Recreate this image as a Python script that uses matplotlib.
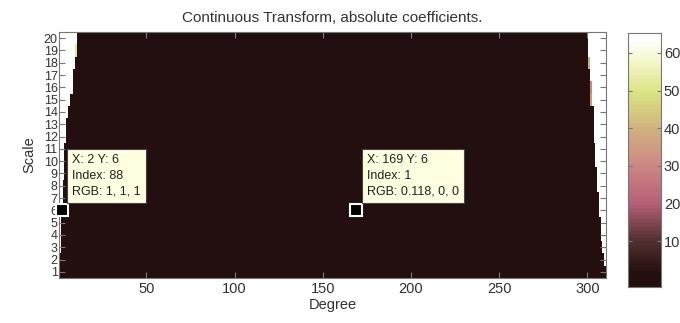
import numpy as np
import matplotlib
matplotlib.use("Agg")
import matplotlib.pyplot as plt
from matplotlib.colors import LinearSegmentedColormap, Normalize

# ---- data ----
n_degree = 310
scales = list(range(1, 21))
# number of bright (clipped, > 64) columns at the left / right edge for each scale 1..20
left_bright = [0, 0, 1, 1, 1, 2, 2, 2, 3, 3, 3, 4, 4, 5, 6, 8, 8, 9, 9, 10]
right_bright = [0, 1, 2, 3, 3, 4, 4, 5, 5, 6, 6, 7, 7, 7, 8, 8, 9, 9, 10, 10]
background_index = 1
edge_index = 88
# tinted boundary cells (scale, degree, index)
tint_cells = [(19, 10, 52), (16, 302, 30), (15, 302, 34), (18, 301, 40)]
xticks = [50, 100, 150, 200, 250, 300]
cbar_ticks = [10, 20, 30, 40, 50, 60]
tips = [
    dict(x=2, y=6, index=88, rgb="1, 1, 1"),
    dict(x=169, y=6, index=1, rgb="0.118, 0, 0"),
]

# ---- matrix ----
Z = np.full((len(scales), n_degree), float(background_index))
for i, s in enumerate(scales):
    if left_bright[i] > 0:
        Z[i, :left_bright[i]] = edge_index
    if right_bright[i] > 0:
        Z[i, n_degree - right_bright[i]:] = edge_index
for s, d, v in tint_cells:
    Z[s - 1, d - 1] = v

# colormap (index 1..64)
cmap_colors = [
    (0.0, (0.14, 0.06, 0.06)),
    (0.14, (0.33, 0.19, 0.19)),
    (0.30, (0.72, 0.38, 0.47)),
    (0.46, (0.80, 0.53, 0.52)),
    (0.62, (0.82, 0.70, 0.50)),
    (0.78, (0.86, 0.90, 0.52)),
    (0.92, (0.97, 0.97, 0.82)),
    (1.0, (1.0, 1.0, 1.0)),
]
cmap = LinearSegmentedColormap.from_list("ct", cmap_colors, N=64)
norm = Normalize(vmin=1, vmax=64, clip=True)

W, H = 680, 323
fig = plt.figure(figsize=(W / 100, H / 100), dpi=100)
fig.patch.set_facecolor("white")
plt.rcParams["font.family"] = ["Liberation Sans", "DejaVu Sans"]

ax = fig.add_axes([59 / W, (H - 278) / H, 547 / W, 246 / H])
ax.imshow(Z, cmap=cmap, norm=norm, origin="lower", aspect="auto",
          extent=[0.5, n_degree + 0.5, 0.5, len(scales) + 0.5],
          interpolation="nearest")
ax.set_xlim(0.5, n_degree + 0.5)
ax.set_ylim(0.5, len(scales) + 0.5)
ax.set_xticks(xticks)
ax.set_yticks(scales)
ax.set_yticklabels([str(s) for s in scales])
frame_col = "#777777"
for sp in ax.spines.values():
    sp.set_color(frame_col)
ax.tick_params(direction="in", top=True, right=True, length=4, color=frame_col,
               labelsize=10.5, labelcolor="#333333", pad=3)
ax.tick_params(axis="y", labelsize=9, pad=1)
ax.set_xlabel("Degree", fontsize=10.5, color="#333333", labelpad=1)
ax.set_ylabel("Scale", fontsize=10.5, color="#333333", labelpad=5)
ax.set_title("Continuous Transform, absolute coefficients.", fontsize=11,
             color="#333333", pad=7)

# data tips
for t in tips:
    ax.plot([t["x"]], [t["y"]], marker="s", markersize=8, mfc="black",
            mec="white", mew=1.5, clip_on=False, zorder=5)
    ax.annotate(f"X: {t['x']} Y: {t['y']}\nIndex: {t['index']}\nRGB: {t['rgb']}",
                xy=(t["x"], t["y"]), xytext=(7.5, 9.0), textcoords="offset points",
                ha="left", va="bottom", fontsize=9, color="#222222",
                linespacing=1.45,
                bbox=dict(boxstyle="square,pad=0.4", fc="#ffffe1", ec="#444444", lw=0.8),
                zorder=6)

# colorbar drawn manually
cax = fig.add_axes([628 / W, (H - 287) / H, 33 / W, 254 / H])
lo, hi = -2.2, 65.3
grad = np.linspace(lo, hi, 400).reshape(-1, 1)
cax.imshow(grad, cmap=cmap, norm=norm, origin="lower", aspect="auto",
           extent=[0, 1, lo, hi], interpolation="bilinear")
cax.set_xlim(0, 1)
cax.set_ylim(lo, hi)
cax.set_xticks([])
cax.set_yticks(cbar_ticks)
cax.yaxis.tick_right()
cax.tick_params(axis="y", direction="in", left=True, right=True, length=3,
                color=frame_col, labelsize=10.5, labelcolor="#333333", pad=2)
for sp in cax.spines.values():
    sp.set_color(frame_col)

fig.savefig("out.png", dpi=100)
